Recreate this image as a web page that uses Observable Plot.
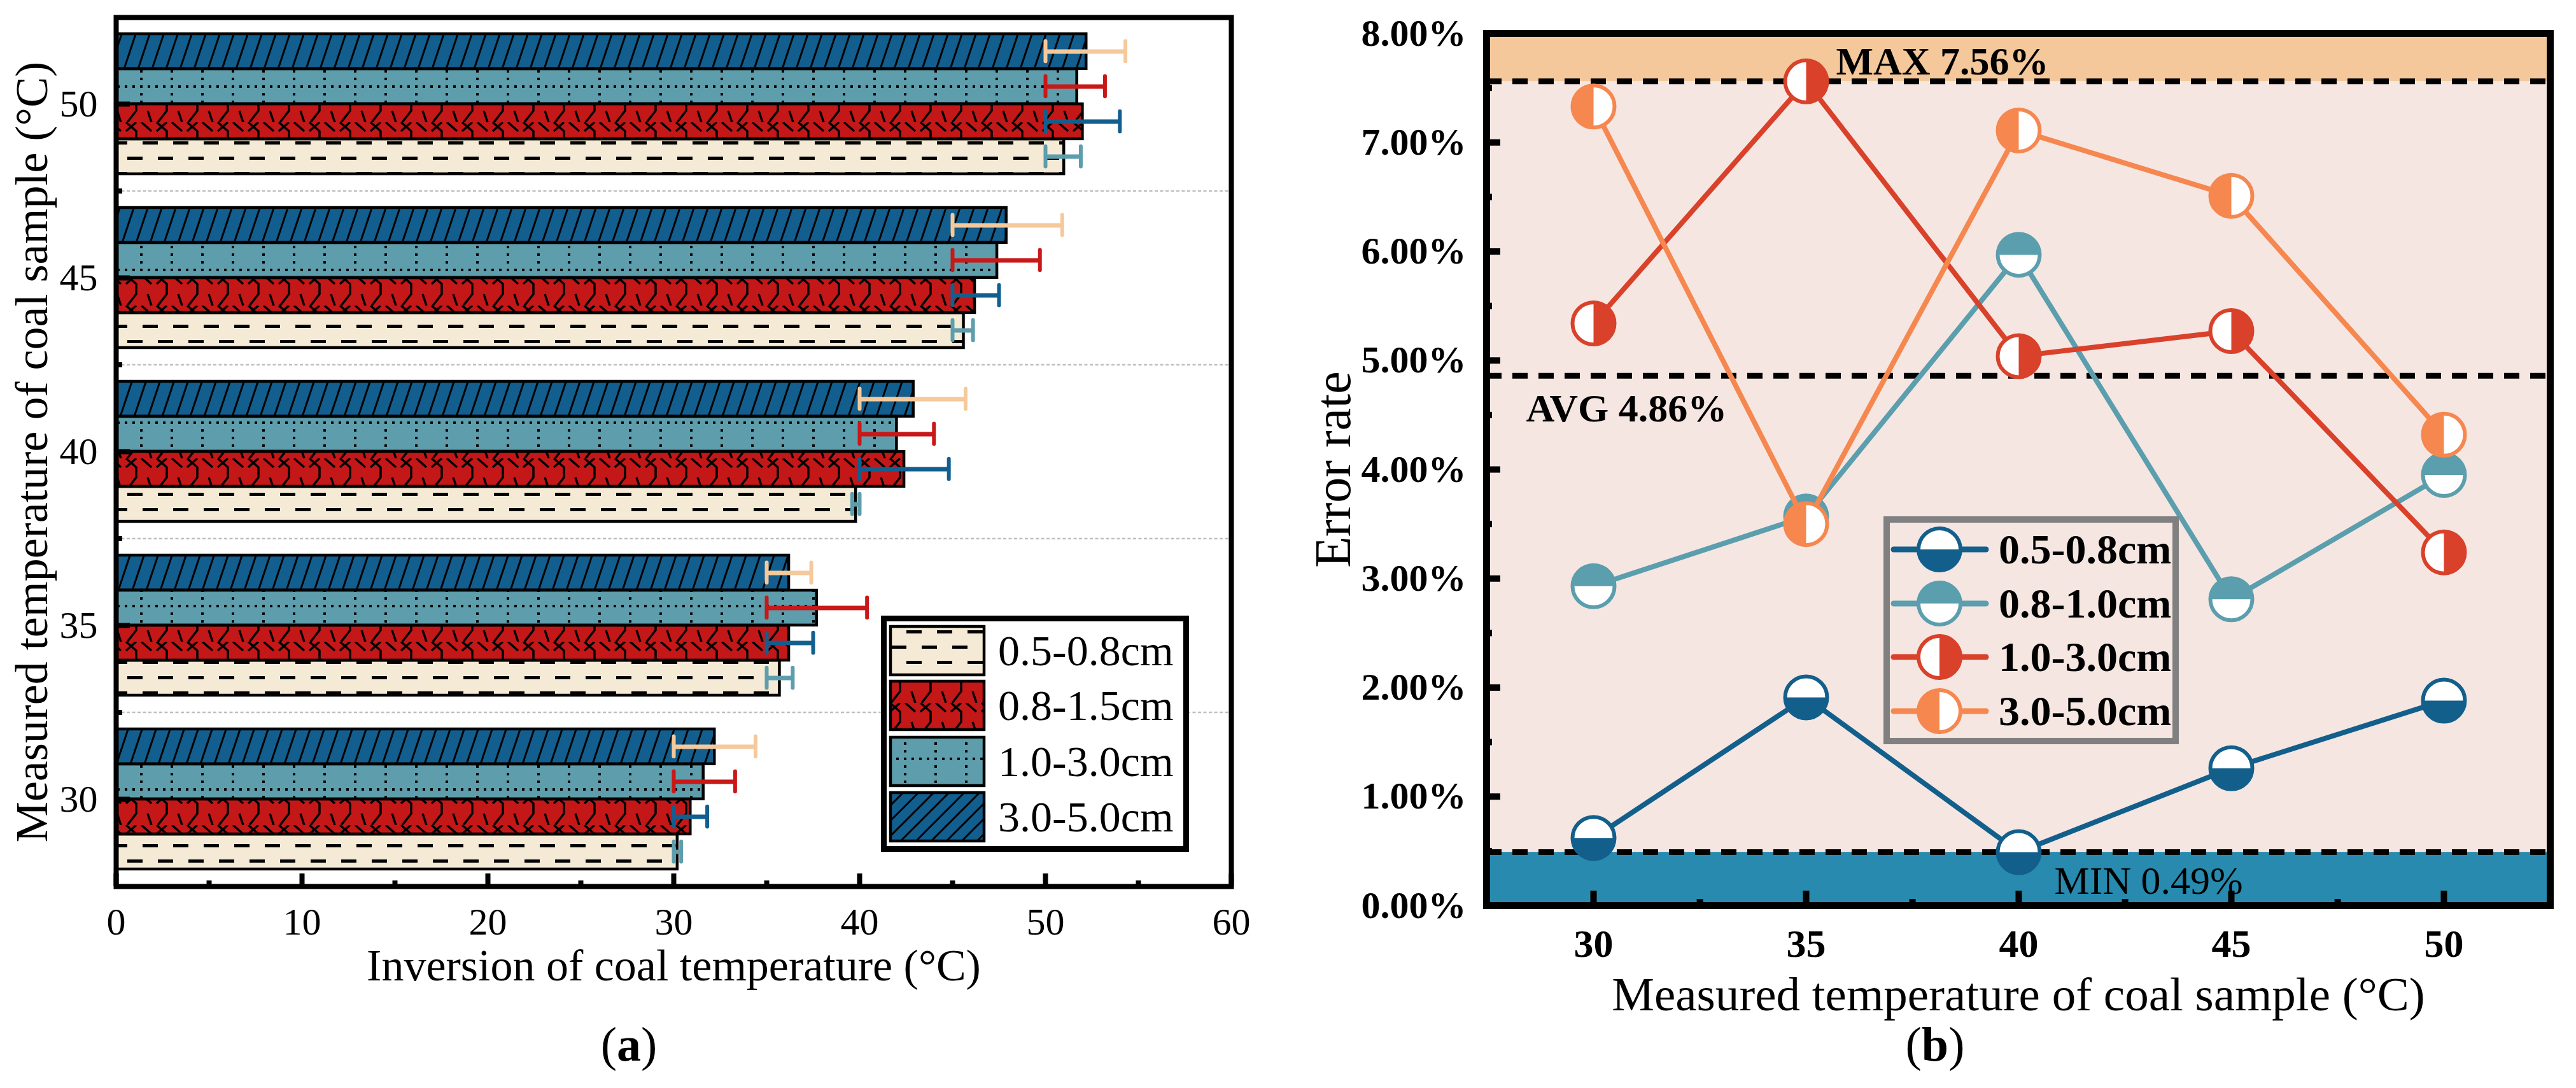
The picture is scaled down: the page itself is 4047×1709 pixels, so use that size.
<!DOCTYPE html>
<html><head><meta charset="utf-8">
<script src="https://cdn.jsdelivr.net/npm/d3@7"></script>
<script src="https://cdn.jsdelivr.net/npm/@observablehq/plot@0.6"></script>
<style>
html,body{margin:0;padding:0;background:#fff;}
#page{position:relative;width:4047px;height:1709px;overflow:hidden;font-family:"Liberation Serif",serif;}
#page > svg{position:absolute;}
</style></head><body>
<div id="page">
<svg width="0" height="0" style="position:absolute">
 <defs>
  <pattern id="pCream" patternUnits="userSpaceOnUse" width="48" height="48">
   <rect width="48" height="48" fill="#f5ead5"/>
   <rect x="8" y="6" width="24" height="5" fill="#000"/>
   <rect x="32" y="30" width="24" height="5" fill="#000"/>
   <rect x="-16" y="30" width="24" height="5" fill="#000"/>
  </pattern>
  <pattern id="pRed" patternUnits="userSpaceOnUse" width="48" height="48">
   <rect width="48" height="48" fill="#c41717"/>
   <path d="M6,0 L22,14 L22,30 L8,48 M22,0 L6,14 M30,0 L46,14 M40,30 L46,48" stroke="#000" stroke-width="3.5" fill="none"/>
  </pattern>
  <pattern id="pTeal" patternUnits="userSpaceOnUse" width="48" height="48">
   <rect width="48" height="48" fill="#5e9dab"/>
   <g fill="#000">
    <rect x="28" y="2" width="4" height="4"/><rect x="28" y="14" width="4" height="4"/>
    <rect x="28" y="26" width="4" height="4"/><rect x="28" y="38" width="4" height="4"/>
    <rect x="4" y="38" width="4" height="4"/><rect x="16" y="38" width="4" height="4"/>
    <rect x="40" y="38" width="4" height="4"/>
   </g>
  </pattern>
  <pattern id="pBlue" patternUnits="userSpaceOnUse" width="22" height="66">
   <rect width="22" height="66" fill="#125e8e"/>
   <path d="M-11,66 L11,0 M11,66 L33,0" stroke="#000" stroke-width="3" fill="none"/>
  </pattern>
  <pattern id="pBlueL" patternUnits="userSpaceOnUse" width="24" height="24">
   <rect width="24" height="24" fill="#125e8e"/>
   <path d="M-6,6 L6,-6 M0,24 L24,0 M18,30 L30,18" stroke="#000" stroke-width="3" fill="none"/>
  </pattern>
 </defs>
</svg>
</div>
<script>
// ---------------- data: panel (a) ----------------
const temps = [30, 35, 40, 45, 50];
const tempsDesc = [50, 45, 40, 35, 30];
const barSeries = ["0.5-0.8cm", "0.8-1.5cm", "1.0-3.0cm", "3.0-5.0cm"];
const inv_05_08 = [30.2, 35.7, 39.8, 45.6, 51.0];
const inv_08_15 = [30.9, 36.2, 42.4, 46.2, 52.0];
const inv_10_30 = [31.6, 37.7, 42.0, 47.4, 51.7];
const inv_30_50 = [32.2, 36.2, 42.9, 47.9, 52.2];
// error bars (low / high end) drawn on each bar row
const errLo_30_50 = [30, 35, 40, 45, 50];
const errHi_30_50 = [34.4, 37.4, 45.7, 50.9, 54.3];
const errLo_10_30 = [30, 35, 40, 45, 50];
const errHi_10_30 = [33.3, 40.4, 44.0, 49.7, 53.2];
const errLo_08_15 = [30, 35, 40, 45, 50];
const errHi_08_15 = [31.8, 37.5, 44.8, 47.5, 54.0];
const errLo_05_08 = [30, 35, 39.6, 45, 50];
const errHi_05_08 = [30.4, 36.4, 40.0, 46.1, 51.9];
const xTicksA = [0, 10, 20, 30, 40, 50, 60];
const xMinorA = [5, 15, 25, 35, 45, 55];

// ---------------- data: panel (b) ----------------
const lineSeries = ["0.5-0.8cm", "0.8-1.0cm", "1.0-3.0cm", "3.0-5.0cm"];
const err_05_08 = [0.62, 1.91, 0.49, 1.26, 1.88];
const err_08_10 = [2.93, 3.57, 5.97, 2.81, 3.95];
const err_10_30 = [5.34, 7.56, 5.04, 5.27, 3.24];
const err_30_50 = [7.33, 3.50, 7.11, 6.51, 4.32];
const statNames = ["MIN 0.49%", "AVG 4.86%", "MAX 7.56%"];
const statValues = [0.49, 4.86, 7.56];
const bandLo = [0, 0.49, 7.56];
const bandHi = [0.49, 7.56, 8];
const yTicksB = [0, 1, 2, 3, 4, 5, 6, 7, 8];
const yMinorB = [0.5, 1.5, 2.5, 3.5, 4.5, 5.5, 6.5, 7.5];

const page = document.getElementById("page");
const FONT = "Liberation Serif";

// ================= panel (a) =================
{
  const W = 2000, H = 1709, mL = 182, mR = 66, mT = 27, mB = 317;
  const FW = W - mL - mR, FH = H - mT - mB;
  const pIn = 0.193, pOut = pIn / 2;
  const step = FH / temps.length;
  const bw = step * (1 - pIn);
  const q = bw / 4;
  const rows = [ // top to bottom inside each group
    {vals: inv_30_50, fill: "url(#pBlue)", lo: errLo_30_50, hi: errHi_30_50, ec: "#f5c99b"},
    {vals: inv_10_30, fill: "url(#pTeal)", lo: errLo_10_30, hi: errHi_10_30, ec: "#c81818"},
    {vals: inv_08_15, fill: "url(#pRed)", lo: errLo_08_15, hi: errHi_08_15, ec: "#125f8f"},
    {vals: inv_05_08, fill: "url(#pCream)", lo: errLo_05_08, hi: errHi_05_08, ec: "#5e9eac"}
  ];
  const marks = [];
  marks.push(Plot.ruleY(tempsDesc.slice(1), {y: d => d, dy: -step / 2, stroke: "#bfbfbf", strokeWidth: 2.5, strokeDasharray: "5,3.5"}));
  rows.forEach((r, k) => {
    const tbl = temps.map((t, i) => ({temp: t, value: r.vals[i]}));
    marks.push(Plot.barX(tbl, {y: "temp", x: "value", insetTop: k * q, insetBottom: (3 - k) * q,
      fill: r.fill, stroke: "#000", strokeWidth: 4.5}));
  });
  rows.forEach((r, k) => {
    const tbl = temps.map((t, i) => ({temp: t, lo: r.lo[i], hi: r.hi[i]}));
    const capIn = (q - 32) / 2;
    marks.push(Plot.ruleY(tbl, {y: "temp", x1: "lo", x2: "hi", dy: (k - 1.5) * q, stroke: r.ec, strokeWidth: 7}));
    for (const key of ["lo", "hi"]) {
      marks.push(Plot.tickX(tbl, {x: key, y: "temp", insetTop: k * q + capIn, insetBottom: (3 - k) * q + capIn,
        stroke: r.ec, strokeWidth: 6, strokeLinecap: "round"}));
    }
  });
  // inward ticks
  marks.push(Plot.tickY(tempsDesc, {y: d => d, insetRight: FW - 22, stroke: "#000", strokeWidth: 8}));
  marks.push(Plot.tickY(tempsDesc.slice(1), {y: d => d, dy: -step / 2, insetRight: FW - 10, stroke: "#000", strokeWidth: 8}));
  marks.push(Plot.tickX(xTicksA, {x: d => d, insetTop: FH - 20, stroke: "#000", strokeWidth: 8}));
  marks.push(Plot.tickX(xMinorA, {x: d => d, insetTop: FH - 9, stroke: "#000", strokeWidth: 8}));
  marks.push(Plot.frame({stroke: "#000", strokeWidth: 8}));
  marks.push(Plot.axisY({tickSize: 0, tickPadding: 29, fontSize: 60, label: null}));
  marks.push(Plot.axisX({ticks: xTicksA, tickSize: 0, tickPadding: 33, fontSize: 60, label: null}));
  marks.push(Plot.text(["Inversion of coal temperature (°C)"], {frameAnchor: "bottom", dy: 125, fontSize: 70, textAnchor: "middle", lineAnchor: "middle"}));
  marks.push(Plot.text(["Measured temperature of coal sample (°C)"], {frameAnchor: "left", dx: -132, rotate: -90, fontSize: 72, textAnchor: "middle", lineAnchor: "middle"}));
  const chart = Plot.plot({
    width: W, height: H, marginLeft: mL, marginRight: mR, marginTop: mT, marginBottom: mB,
    x: {domain: [0, 60]},
    y: {type: "band", domain: tempsDesc, paddingInner: pIn, paddingOuter: pOut},
    style: {fontFamily: FONT, background: "transparent", maxWidth: "none", overflow: "visible", color: "#000"},
    marks
  });
  chart.style.left = "0px"; chart.style.top = "0px";
  page.appendChild(chart);
}

// ================= panel (b) =================
const half = (a0, a1) => ({
  draw(ctx, size) {
    const r = Math.sqrt(size / Math.PI);
    ctx.moveTo(r * Math.cos(a0), r * Math.sin(a0));
    ctx.arc(0, 0, r, a0, a1);
    ctx.closePath();
  }
});
const lineDefs = [
  {name: lineSeries[0], vals: err_05_08, color: "#135f8c", sym: half(0, Math.PI)},
  {name: lineSeries[1], vals: err_08_10, color: "#5b9ead", sym: half(Math.PI, 2 * Math.PI)},
  {name: lineSeries[2], vals: err_10_30, color: "#d9412a", sym: half(-Math.PI / 2, Math.PI / 2)},
  {name: lineSeries[3], vals: err_30_50, color: "#f5874f", sym: half(Math.PI / 2, 3 * Math.PI / 2)}
];
{
  const W = 2047, H = 1709, mL = 335, mR = 41, mT = 52, mB = 287;
  const FW = W - mL - mR, FH = H - mT - mB;
  const step = FW / temps.length;
  const bandColors = ["#278aae", "#f5e6e2", "#f4c89a"];
  const marks = [];
  bandLo.forEach((lo, i) => marks.push(Plot.rect([i], {y1: () => bandLo[i], y2: () => bandHi[i], fill: bandColors[i]})));
  marks.push(Plot.ruleY(statValues, {y: d => d, stroke: "#000", strokeWidth: 9, strokeDasharray: "24,17"}));
  marks.push(Plot.text([statNames[2]], {y: () => statValues[2], frameAnchor: "left", dx: 549, dy: -31, textAnchor: "start", lineAnchor: "middle", fontSize: 62, fontWeight: "bold"}));
  marks.push(Plot.text([statNames[1]], {y: () => statValues[1], frameAnchor: "left", dx: 62, dy: 52, textAnchor: "start", lineAnchor: "middle", fontSize: 62, fontWeight: "bold"}));
  marks.push(Plot.text([statNames[0]], {y: () => statValues[0], frameAnchor: "left", dx: 892, dy: 46, textAnchor: "start", lineAnchor: "middle", fontSize: 62}));
  lineDefs.forEach(s => {
    const tbl = temps.map((t, i) => ({temp: t, v: s.vals[i]}));
    marks.push(Plot.line(tbl, {x: "temp", y: "v", stroke: s.color, strokeWidth: 8}));
    marks.push(Plot.dot(tbl, {x: "temp", y: "v", r: 33, fill: "#fff", stroke: s.color, strokeWidth: 6}));
    marks.push(Plot.dot(tbl, {x: "temp", y: "v", r: 33, fill: s.color, symbol: s.sym}));
  });
  marks.push(Plot.tickY(yTicksB, {y: d => d, insetRight: FW - 22, stroke: "#000", strokeWidth: 10}));
  marks.push(Plot.tickY(yMinorB, {y: d => d, insetRight: FW - 9, stroke: "#000", strokeWidth: 10}));
  marks.push(Plot.tickX(temps, {x: d => d, insetTop: FH - 23, stroke: "#000", strokeWidth: 10}));
  marks.push(Plot.tickX(temps.slice(0, 4), {x: d => d, dx: step / 2, insetTop: FH - 10, stroke: "#000", strokeWidth: 10}));
  marks.push(Plot.frame({stroke: "#000", strokeWidth: 11}));
  marks.push(Plot.axisY({ticks: yTicksB, tickFormat: d => d.toFixed(2) + "%", tickSize: 0, tickPadding: 32, fontSize: 60, fontWeight: "bold", label: null}));
  marks.push(Plot.axisX({tickSize: 0, tickPadding: 36, fontSize: 62, fontWeight: "bold", label: null}));
  marks.push(Plot.text(["Error rate"], {frameAnchor: "left", dx: -240, rotate: -90, fontSize: 80, textAnchor: "middle", lineAnchor: "middle"}));
  marks.push(Plot.text(["Measured temperature of coal sample (°C)"], {frameAnchor: "bottom", dy: 140, fontSize: 75, textAnchor: "middle", lineAnchor: "middle"}));
  const chart = Plot.plot({
    width: W, height: H, marginLeft: mL, marginRight: mR, marginTop: mT, marginBottom: mB,
    x: {type: "point", domain: temps, padding: 0.5},
    y: {domain: [0, 8]},
    style: {fontFamily: FONT, background: "transparent", maxWidth: "none", overflow: "visible", color: "#000"},
    marks
  });
  chart.style.left = "2000px"; chart.style.top = "0px";
  page.appendChild(chart);
}

// ================= legends & captions overlay =================
{
  const svg = d3.select(page).append("svg")
    .attr("width", 4047).attr("height", 1709)
    .style("left", "0px").style("top", "0px").style("pointer-events", "none")
    .attr("font-family", FONT);
  // legend (a)
  svg.append("rect").attr("x", 1388.5).attr("y", 971.5).attr("width", 475).attr("height", 362)
    .attr("fill", "#fff").attr("stroke", "#000").attr("stroke-width", 9);
  const legA = [
    {name: barSeries[0], fill: "url(#pCream)"},
    {name: barSeries[1], fill: "url(#pRed)"},
    {name: barSeries[2], fill: "url(#pTeal)"},
    {name: barSeries[3], fill: "url(#pBlueL)"}
  ];
  const rowTopsA = [982, 1068, 1156, 1243];
  legA.forEach((d, i) => {
    svg.append("rect").attr("x", 1399).attr("y", rowTopsA[i] + 2).attr("width", 147).attr("height", 76)
      .attr("fill", d.fill).attr("stroke", "#000").attr("stroke-width", 4.5);
    svg.append("text").attr("x", 1568).attr("y", rowTopsA[i] + 40 + 23).attr("font-size", 68).attr("fill", "#000").text(d.name);
  });
  // legend (b)
  svg.append("rect").attr("x", 2964).attr("y", 816).attr("width", 454).attr("height", 348)
    .attr("fill", "none").attr("stroke", "#808080").attr("stroke-width", 10);
  const rowCB = [863, 948, 1032, 1117];
  lineDefs.forEach((s, i) => {
    const cy = rowCB[i];
    svg.append("line").attr("x1", 2975).attr("x2", 3120).attr("y1", cy).attr("y2", cy)
      .attr("stroke", s.color).attr("stroke-width", 9).attr("stroke-linecap", "round");
    svg.append("circle").attr("cx", 3047).attr("cy", cy).attr("r", 33)
      .attr("fill", "#fff").attr("stroke", s.color).attr("stroke-width", 6);
    svg.append("path").attr("transform", `translate(3047,${cy})`)
      .attr("d", d3.symbol(s.sym, Math.PI * 33 * 33)()).attr("fill", s.color);
    svg.append("text").attr("x", 3140).attr("y", cy + 22).attr("font-size", 66).attr("font-weight", "bold")
      .attr("fill", "#000").text(s.name);
  });
  // captions
  const cap = (x, letter) => {
    const t = svg.append("text").attr("x", x).attr("y", 1666).attr("font-size", 76)
      .attr("text-anchor", "middle").attr("fill", "#000");
    t.append("tspan").text("(");
    t.append("tspan").attr("font-weight", "bold").text(letter);
    t.append("tspan").text(")");
  };
  cap(988, "a");
  cap(3040, "b");
}
</script>
</body></html>
